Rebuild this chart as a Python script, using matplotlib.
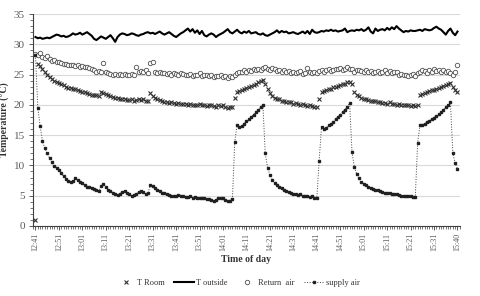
import numpy as np
import matplotlib
matplotlib.use("Agg")
import matplotlib.pyplot as plt
from matplotlib.ticker import MultipleLocator

plt.rcParams['font.family'] = ['Liberation Serif', 'DejaVu Serif']

# one reading per minute, 12:41 .. 15:40
tick_labels = ["12:41", "12:51", "13:01", "13:11", "13:21", "13:31", "13:41",
               "13:51", "14:01", "14:11", "14:21", "14:31", "14:41", "14:51",
               "15:01", "15:11", "15:21", "15:31", "15:40"]

supply_air = [
    28.2, 19.5, 16.5, 14.0, 12.8, 12.0, 11.2, 10.5, 9.9, 9.6,
    9.3, 8.7, 8.2, 7.8, 7.4, 7.3, 7.5, 7.9, 7.6, 7.2,
    7.1, 6.7, 6.5, 6.4, 6.3, 6.1, 5.9, 5.7, 6.6, 6.9,
    6.5, 6.0, 5.8, 5.5, 5.3, 5.1, 5.3, 5.6, 5.8, 5.4,
    5.3, 5.0, 5.1, 5.2, 5.6, 5.7, 5.6, 5.2, 5.4, 6.8,
    6.6, 6.3, 6.0, 5.7, 5.5, 5.4, 5.2, 5.1, 5.0, 5.0,
    4.9, 5.1, 5.0, 4.9, 4.8, 4.8, 4.9, 4.7, 4.8, 4.7,
    4.6, 4.6, 4.7, 4.5, 4.4, 4.3, 4.1, 4.3, 4.6, 4.6,
    4.7, 4.3, 4.1, 4.2, 4.4, 13.9, 16.7, 16.3, 16.5, 16.9,
    17.3, 17.6, 18.0, 18.4, 18.8, 19.2, 19.6, 20.0, 12.0, 9.6,
    8.4, 7.6, 7.1, 6.8, 6.5, 6.2, 6.0, 5.8, 5.6, 5.5,
    5.3, 5.2, 5.1, 5.3, 4.9, 5.0, 4.9, 4.8, 4.9, 4.7,
    4.6, 10.8, 16.4, 16.0, 16.2, 16.6, 16.9, 17.2, 17.6, 18.0,
    18.4, 18.8, 19.2, 19.7, 20.3, 12.2, 9.8, 8.6, 7.9, 7.3,
    7.0, 6.7, 6.5, 6.3, 6.1, 6.0, 5.9, 5.8, 5.6, 5.5,
    5.4, 5.4, 5.3, 5.2, 5.2, 5.1, 5.0, 5.0, 5.0, 4.9,
    4.9, 4.8, 4.8, 13.7, 16.7, 16.6, 16.9, 17.1, 17.4, 17.6,
    17.9, 18.2, 18.5, 18.8, 19.2, 19.6, 20.0, 20.4, 12.0, 10.4,
    9.4]

t_room = [
    1.0, 26.8, 26.4, 26.0, 25.5, 25.0, 24.6, 24.3, 24.0, 23.8,
    23.6, 23.4, 23.2, 23.0, 22.8, 22.8, 22.6, 22.7, 22.5, 22.3,
    22.2, 22.1, 21.9, 21.8, 21.7, 21.6, 21.6, 21.5, 22.2, 21.9,
    21.8, 21.6, 21.4, 21.3, 21.2, 21.1, 21.0, 20.9, 21.0, 20.8,
    20.8, 20.9, 20.7, 20.8, 21.0, 20.8, 20.9, 20.7, 20.6, 21.9,
    21.4, 21.2, 21.0, 20.8, 20.6, 20.5, 20.5, 20.3, 20.4, 20.3,
    20.2, 20.3, 20.1, 20.2, 20.1, 20.0, 20.2, 20.0, 19.9, 20.0,
    20.1, 19.9, 20.0, 19.8, 19.9, 20.0, 19.8, 19.7, 19.9, 19.8,
    20.0, 19.6, 19.5, 19.7, 19.6, 21.1, 22.1, 22.3, 22.5, 22.6,
    22.8, 23.0, 23.1, 23.3, 23.5, 23.7, 23.9, 24.1, 23.4, 22.6,
    22.0, 21.5, 21.2, 21.0, 20.9, 20.7, 20.6, 20.5, 20.4, 20.4,
    20.2, 20.3, 20.1, 20.0, 20.1, 19.9, 19.8, 20.0, 19.8, 19.7,
    19.6, 21.0, 22.1, 22.3, 22.4, 22.6, 22.7, 22.9, 23.0, 23.1,
    23.3, 23.4, 23.5, 23.7, 23.8, 23.5, 22.1, 21.7, 21.4, 21.2,
    21.0, 20.9, 20.8, 20.7, 20.6, 20.6, 20.5, 20.4, 20.3, 20.3,
    20.2, 20.4, 20.1, 20.2, 20.0, 20.1, 19.9, 20.0, 19.9, 20.0,
    19.8, 19.9, 19.8, 20.0, 21.6, 21.8, 22.0, 22.1, 22.3, 22.4,
    22.5, 22.7, 22.8, 23.0, 23.1, 23.2, 23.4, 23.6, 23.0, 22.5,
    22.1]

return_air = [
    28.4, 28.3, 28.5, 27.9, 27.7, 28.0, 27.6, 27.3, 27.4, 27.1,
    27.0, 26.9, 26.8, 26.7, 26.6, 26.5, 26.6, 26.4, 26.5, 26.3,
    26.4, 26.2, 26.3, 26.1, 25.9, 25.7, 25.5, 25.6, 25.4, 26.9,
    25.5, 25.2, 25.1, 25.0, 25.1, 25.0, 25.1, 25.0, 25.1, 25.0,
    25.0, 25.1, 24.9, 26.3, 25.5, 25.6, 25.4, 25.7, 25.3, 26.9,
    27.1, 25.4, 25.2, 25.5, 25.3, 25.2, 25.1, 25.3, 25.0, 25.2,
    25.1, 25.0, 25.2, 25.1, 24.9, 25.0, 25.1, 24.8, 25.0, 24.9,
    25.2, 24.8, 24.9, 25.0, 24.7, 24.9, 24.6, 24.8, 24.7, 24.9,
    24.6, 24.8, 24.5, 24.7, 24.6, 24.9, 25.2, 25.5, 25.4, 25.7,
    25.5, 25.8, 25.6, 25.9, 25.7, 26.0, 25.8, 26.1, 26.2, 26.0,
    25.8, 26.1, 25.9, 25.6, 25.8, 25.5, 25.7, 25.4, 25.6, 25.3,
    25.5, 25.2, 25.4, 25.6, 25.1, 25.3, 26.1, 25.4, 25.2, 25.5,
    25.3, 25.6, 25.8, 25.5, 25.7, 25.9, 25.6, 25.8, 26.0, 25.9,
    26.1, 25.8, 26.0, 26.2, 26.0, 25.9, 25.5, 25.7, 25.8, 25.6,
    25.5, 25.7, 25.4, 25.6, 25.3, 25.5, 25.6, 25.2, 25.4, 25.7,
    25.3, 25.6, 25.2, 25.4, 25.5, 25.0, 25.1, 24.9, 25.0, 24.8,
    24.9, 25.1, 24.8, 25.2, 25.5, 25.8, 25.6, 25.3, 25.7, 25.4,
    25.9, 25.6, 25.8, 25.5, 25.7, 25.4, 25.6, 25.3, 25.0, 25.4,
    26.6]

t_outside = [
    31.2, 31.0, 31.1, 30.9, 31.0, 31.1, 31.0, 31.2, 31.4, 31.6,
    31.5, 31.3, 31.4, 31.2, 31.3, 31.5, 31.8, 31.6, 31.7, 31.9,
    31.6, 31.8, 32.0, 31.7, 31.4, 30.9, 30.7, 31.0, 31.3, 31.1,
    30.9, 31.2, 31.5, 31.0, 30.4, 31.2, 31.6, 31.8, 31.7, 31.5,
    31.6, 31.8, 31.7, 31.5, 31.4, 31.6, 31.7, 31.9, 32.0, 31.8,
    31.9, 31.7, 31.9, 32.1, 31.8, 31.6, 31.8, 32.0, 31.7, 31.4,
    31.2, 31.5, 31.8, 32.0, 32.3, 32.6, 32.1, 32.5, 31.9, 32.3,
    31.7, 32.2, 31.5, 31.3, 31.6, 31.8, 31.6, 31.2, 31.5, 31.7,
    31.9, 32.2, 32.5, 32.0, 31.8, 32.1, 32.4, 32.0, 31.8, 32.1,
    31.9, 32.2, 31.8, 31.9, 32.0, 31.7, 31.6, 31.8, 31.5, 31.4,
    31.6, 31.8, 32.0, 32.3, 31.9, 32.2, 32.0, 32.1, 31.8, 31.9,
    32.0, 31.8, 31.7, 31.9, 32.1, 31.8, 32.2, 31.7, 32.4, 32.0,
    31.9, 32.0, 32.2, 32.1, 32.3, 32.2, 32.4, 32.2, 32.3, 32.1,
    32.2, 32.3, 32.6, 32.0, 32.2, 32.3, 32.2, 32.4, 32.3, 32.5,
    32.2, 32.4, 32.8, 32.1, 31.8, 32.6, 32.2, 32.4, 32.5, 32.3,
    32.7, 32.4, 32.8, 32.5, 33.0, 32.6, 32.3, 32.0, 32.2, 32.1,
    32.3, 32.2, 32.2, 32.3, 32.4, 32.2, 32.5, 32.4, 32.3, 32.4,
    32.7, 32.9, 32.6, 32.4, 32.0, 31.6, 32.2, 32.6, 31.9, 31.5,
    32.1]

x = np.arange(len(supply_air))
grey = '#595959'

fig = plt.figure(figsize=(4.8, 2.96), dpi=100)
ax = fig.add_axes([0.069, 0.2365, 0.889, 0.7162])

ax.plot(x, t_room, linestyle='none', marker='x', markersize=2.6,
        markeredgewidth=0.8, color='#303030', label='T Room', zorder=3)
ax.plot(x, t_outside, color='black', linewidth=1.5, label='T outside', zorder=4)
ax.plot(x, return_air, linestyle='none', marker='o', markersize=3.2,
        markerfacecolor='white', markeredgecolor='#505050',
        markeredgewidth=0.6, label='Return  air', zorder=3)
ax.plot(x, supply_air, linestyle=':', linewidth=0.7, color='#404040',
        marker='s', markersize=1.8, markerfacecolor='#202020',
        markeredgecolor='#202020', label='supply air', zorder=3)

ax.set_xlim(-1, 181)
ax.set_ylim(0, 35)
ax.yaxis.set_major_locator(MultipleLocator(5))
ax.yaxis.set_minor_locator(MultipleLocator(1))
ax.set_xticks(np.arange(0, len(x), 10))
ax.set_xticklabels(tick_labels, rotation=90)
ax.xaxis.set_minor_locator(MultipleLocator(1))

ax.grid(axis='y', color='#d9d9d9', linewidth=0.8)
ax.set_axisbelow(True)
for s in ['top', 'right']:
    ax.spines[s].set_visible(False)
ax.spines['left'].set_color('#404040')
ax.spines['bottom'].set_color('#404040')
ax.tick_params(axis='both', which='major', colors='#404040', labelcolor=grey,
               length=3, width=0.6)
ax.tick_params(axis='both', which='minor', colors='#404040', length=2, width=0.5)
ax.tick_params(axis='y', labelsize=8, pad=3)
ax.tick_params(axis='x', labelsize=5.8, pad=2)

ax.set_ylabel('Temperature (°C)', fontsize=7, fontweight='bold', color='#333333')
ax.yaxis.set_label_coords(-0.055, 0.5)
ax.set_xlabel('Time of day', fontsize=7, fontweight='bold', color='#333333',
              labelpad=3)

leg = fig.legend(loc='center', bbox_to_anchor=(0.495, 0.044), ncol=4,
                 frameon=False, fontsize=6, handlelength=2.4,
                 handletextpad=0.2, columnspacing=1.1)
for t in leg.get_texts():
    t.set_color('#333333')

fig.savefig('out.png', dpi=100)
